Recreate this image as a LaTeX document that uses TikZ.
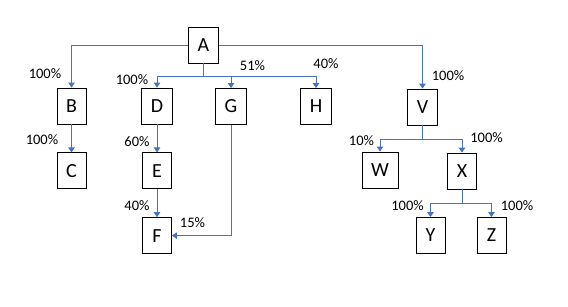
\documentclass[tikz,border=0pt]{standalone}
\usepackage{fontspec}
\setmainfont{Carlito}
\usepackage{xcolor}
\usetikzlibrary{arrows.meta, positioning}
\definecolor{linkblue}{HTML}{4472C4}

\begin{document}
\begin{tikzpicture}[
  x=1pt, y=-1pt,
  node distance=28pt,
  box/.style={rectangle, draw=black, thick, minimum width=29pt, minimum height=36pt,
              inner xsep=9pt, inner ysep=0pt, font=\fontsize{20}{22}\selectfont},
  pct/.style={inner sep=0pt, font=\fontsize{14.5}{16}\selectfont},
  arrow/.style={-{Triangle[length=5pt,width=6.5pt]}, draw=linkblue, line width=0.8pt}
]
\useasboundingbox (0,0) rectangle (568,306);

% top of the tree
\node[box] (A) at (203.5,45) {A};
\node[box] (B) at (71.5,106) {B};
\node[box] (D) at (157,106) {D};
\node[box] (G) at (231,106.5) {G};
\node[box] (H) at (316,106.5) {H};
\node[box] (V) at (422.5,107) {V};

% lower rows
\node[box, below=of B] (C) {C};
\node[box, below=of D] (E) {E};
\node[box, below=of E] (F) {F};
\node[box] (W) at (380,170) {W};
\node[box] (X) at (462,171) {X};
\node[box] (Y) at (430.5,235.5) {Y};
\node[box] (Z) at (491.5,235.5) {Z};

% shares
\node[pct] (pB) at (45,74) {100\%};
\node[pct] (pD) at (132,80) {100\%};
\node[pct] (pG) at (252.5,65.5) {51\%};
\node[pct] (pH) at (326,63.5) {40\%};
\node[pct] (pV) at (448,76) {100\%};
\node[pct] (pC) at (42,140) {100\%};
\node[pct] (pE) at (137,142) {60\%};
\node[pct] (pF) at (137,206) {40\%};
\node[pct] (pGF) at (192.5,223) {15\%};
\node[pct] (pW) at (361.5,141) {10\%};
\node[pct] (pX) at (486.5,138) {100\%};
\node[pct] (pY) at (407.5,206) {100\%};
\node[pct] (pZ) at (517,206) {100\%};

\draw[arrow] (A.west) -| (B.north);
\draw[arrow] (A.east) -| (V.north);
\draw[arrow] (A.south) -- ++(0,13) -| (D.north);
\draw[arrow] (A.south) -- ++(0,13) -| (G.north);
\draw[arrow] (A.south) -- ++(0,13) -| (H.north);
\draw[arrow] (B.south) -- (C.north);
\draw[arrow] (D.south) -- (E.north);
\draw[arrow] (E.south) -- (F.north);
\draw[arrow] (G.south) |- (F.east);
\draw[arrow] (V.south) -- ++(0,14) -| (W.north);
\draw[arrow] (V.south) -- ++(0,14) -| (X.north);
\draw[arrow] (X.south) -- ++(0,14) -| (Y.north);
\draw[arrow] (X.south) -- ++(0,14) -| (Z.north);
\end{tikzpicture}
\end{document}
